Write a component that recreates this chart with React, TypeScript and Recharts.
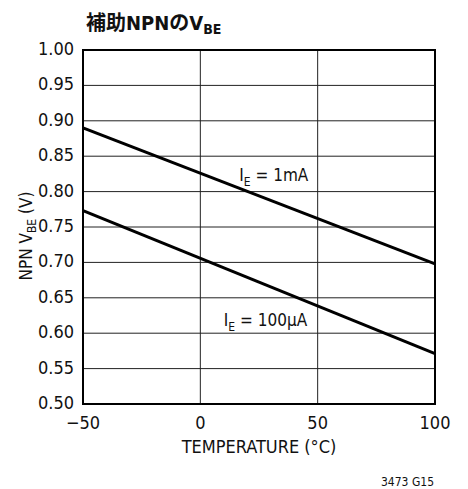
import React from 'react'
import { CartesianGrid, Line, LineChart, ReferenceArea, ReferenceDot, XAxis, YAxis } from 'recharts'

const FONT = '"DejaVu Sans", "Noto Sans CJK JP", sans-serif'

// temperature (°C) vs NPN VBE (V) for two emitter currents
const temps = [-50, 100]
const vbe1mA = [0.89, 0.698]
const vbe100uA = [0.773, 0.571]

const xTicks = [-50, 0, 50, 100]
const yTicks = [0.5, 0.55, 0.6, 0.65, 0.7, 0.75, 0.8, 0.85, 0.9, 0.95, 1.0]

const data = temps.map((t, i) => ({ t, a: vbe1mA[i], b: vbe100uA[i] }))

const txt = { fill: '#111', fontFamily: FONT, style: { fontStretch: 'condensed' as const } }

const XTick = (props: any) => {
  const { x, y, payload } = props
  const v = payload.value
  return (
    <text x={x} y={y + 12} textAnchor="middle" dominantBaseline="middle" fontSize={18} {...txt}>
      {v < 0 ? `\u2212${Math.abs(v)}` : v}
    </text>
  )
}

const YTick = (props: any) => {
  const { x, y, payload } = props
  return (
    <text x={x - 1} y={y} textAnchor="end" dominantBaseline="middle" fontSize={18} {...txt}>
      {Number(payload.value).toFixed(2)}
    </text>
  )
}

const CurveLabel = (sub: string, rest: string) => (props: any) => {
  const { viewBox } = props
  return (
    <text x={viewBox.x} y={viewBox.y + 6} textAnchor="end" fontSize={17} {...txt}>
      I<tspan dy={5} fontSize={12}>{sub}</tspan>
      <tspan dy={-5}>{rest}</tspan>
    </text>
  )
}

const YLabel = () => (
  <text transform="translate(27,236) rotate(-90)" textAnchor="middle" dominantBaseline="middle" fontSize={17} {...txt}>
    NPN V<tspan dy={5} fontSize={12}>BE</tspan>
    <tspan dy={-5}> (V)</tspan>
  </text>
)

const XLabel = (props: any) => {
  const { viewBox } = props
  return (
    <text x={viewBox.x + viewBox.width / 2} y={448} textAnchor="middle" dominantBaseline="middle" fontSize={18} {...txt}>
      TEMPERATURE (°C)
    </text>
  )
}

export default function App() {
  return (
    <div style={{ position: 'absolute', left: 0, top: 0, width: 468, height: 489, background: '#fff' }}>
      <LineChart width={468} height={489} data={data} margin={{ top: 50, right: 33, bottom: 0, left: 23 }}>
        <CartesianGrid stroke="#222" strokeWidth={1} horizontalValues={yTicks} verticalValues={xTicks} />
        <XAxis
          dataKey="t"
          type="number"
          domain={[-50, 100]}
          ticks={xTicks}
          tick={<XTick />}
          tickLine={false}
          axisLine={false}
          height={85}
          label={{ content: XLabel }}
        />
        <YAxis
          type="number"
          domain={[0.5, 1.0]}
          ticks={yTicks}
          tick={<YTick />}
          tickLine={false}
          axisLine={false}
          width={60}
          label={{ content: YLabel }}
        />
        <ReferenceArea x1={-50} x2={100} y1={0.5} y2={1.0} fill="none" stroke="#000" strokeWidth={2} ifOverflow="visible" />
        <Line dataKey="a" stroke="#000" strokeWidth={3} dot={false} isAnimationActive={false} />
        <Line dataKey="b" stroke="#000" strokeWidth={3} dot={false} isAnimationActive={false} />
        <ReferenceDot x={46} y={0.823} r={0} fill="none" stroke="none" label={{ content: CurveLabel('E', ' = 1mA') }} />
        <ReferenceDot x={45.5} y={0.619} r={0} fill="none" stroke="none" label={{ content: CurveLabel('E', ' = 100µA') }} />
      </LineChart>
      <svg width={468} height={489} style={{ position: 'absolute', left: 0, top: 0, pointerEvents: 'none' }}>
        <text x={86} y={30} fontSize={20} fontWeight={700} {...txt}>
          補助NPNのV<tspan dy={4} fontSize={14}>BE</tspan>
        </text>
        <text x={434} y={486} textAnchor="end" fontSize={12} {...txt}>
          3473 G15
        </text>
      </svg>
    </div>
  )
}
